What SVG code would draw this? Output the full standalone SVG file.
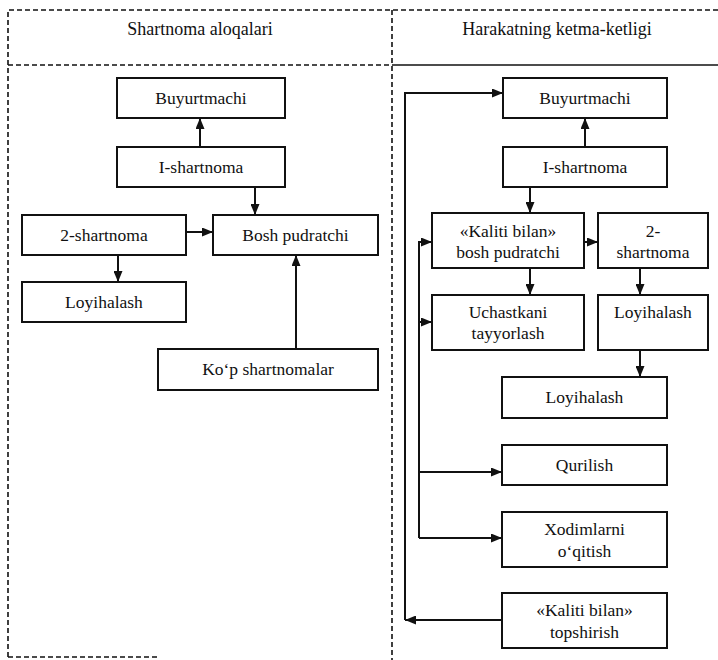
<svg xmlns="http://www.w3.org/2000/svg" width="718" height="660" viewBox="0 0 718 660">
<style>
  .bg{fill:#ffffff}
  .frame{fill:none;stroke:#111;stroke-width:1.6;stroke-dasharray:5 3}
  .solidline{fill:none;stroke:#111;stroke-width:1.6}
  .box{fill:#ffffff;stroke:#111;stroke-width:2}
  .t{font-family:'Liberation Serif','DejaVu Serif',serif;font-size:17.5px;fill:#111;text-anchor:middle}
  .title{font-family:'Liberation Serif','DejaVu Serif',serif;font-size:18px;fill:#111;text-anchor:middle}
  .c{fill:none;stroke:#111;stroke-width:2}
</style>
<defs>
  <marker id="arr" markerUnits="userSpaceOnUse" markerWidth="11" markerHeight="9" refX="11" refY="4.5" orient="auto">
    <path d="M0,0 L11,4.5 L0,9 z" fill="#111"/>
  </marker>
</defs>
<rect class="bg" x="0" y="0" width="718" height="660"/>

<g id="frame">
  <path class="frame" d="M8,657 V10 H718"/>
  <path class="frame" d="M8,65 H392"/>
  <path class="solidline" d="M392,65 H718"/>
  <path class="frame" d="M392,10 V660"/>
  <path class="frame" d="M8,657 H160"/>
  <text class="title" x="200" y="35">Shartnoma aloqalari</text>
  <text class="title" x="557" y="35">Harakatning ketma-ketligi</text>
</g>

<g id="connectors">
  <path class="c" d="M200,147 V118" marker-end="url(#arr)"/>
  <path class="c" d="M255,187 V215" marker-end="url(#arr)"/>
  <path class="c" d="M185,232 H213" marker-end="url(#arr)"/>
  <path class="c" d="M118,255 V282" marker-end="url(#arr)"/>
  <path class="c" d="M296,349 V255" marker-end="url(#arr)"/>

  <path class="c" d="M585,147 V118" marker-end="url(#arr)"/>
  <path class="c" d="M530,187 V213" marker-end="url(#arr)"/>
  <path class="c" d="M584,242 H598" marker-end="url(#arr)"/>
  <path class="c" d="M530,268 V295" marker-end="url(#arr)"/>
  <path class="c" d="M640,268 V295" marker-end="url(#arr)"/>
  <path class="c" d="M640,350 V377" marker-end="url(#arr)"/>

  <path class="c" d="M419,538 V242 H432" marker-end="url(#arr)"/>
  <path class="c" d="M419,322 H432" marker-end="url(#arr)"/>
  <path class="c" d="M419,472 H502" marker-end="url(#arr)"/>
  <path class="c" d="M419,538 H502" marker-end="url(#arr)"/>

  <path class="c" d="M405,620 V93 H503" marker-end="url(#arr)"/>
  <path class="c" d="M502,620 H405" marker-end="url(#arr)"/>
</g>

<g id="l-buyurtmachi"><rect class="box" x="117" y="78" width="168" height="40"/><text class="t" x="201" y="104">Buyurtmachi</text></g>
<g id="l-1-shartnoma"><rect class="box" x="117" y="147" width="168" height="40"/><text class="t" x="201" y="173">I-shartnoma</text></g>
<g id="l-2-shartnoma"><rect class="box" x="22" y="215" width="164" height="40"/><text class="t" x="104" y="241">2-shartnoma</text></g>
<g id="l-bosh-pudratchi"><rect class="box" x="213" y="215" width="165" height="40"/><text class="t" x="295.5" y="241">Bosh pudratchi</text></g>
<g id="l-loyihalash"><rect class="box" x="22" y="282" width="164" height="40"/><text class="t" x="104" y="308">Loyihalash</text></g>
<g id="l-kop-shartnomalar"><rect class="box" x="158" y="349" width="220" height="41"/><text class="t" x="268" y="375">Ko‘p shartnomalar</text></g>

<g id="r-buyurtmachi"><rect class="box" x="503" y="78" width="164" height="40"/><text class="t" x="585" y="104">Buyurtmachi</text></g>
<g id="r-1-shartnoma"><rect class="box" x="503" y="147" width="164" height="40"/><text class="t" x="585" y="173">I-shartnoma</text></g>
<g id="r-kaliti-bosh"><rect class="box" x="432" y="213" width="152" height="55"/><text class="t" x="508" y="237">«Kaliti bilan»</text><text class="t" x="508" y="258">bosh pudratchi</text></g>
<g id="r-2-shartnoma"><rect class="box" x="598" y="213" width="110" height="55"/><text class="t" x="653" y="237">2-</text><text class="t" x="653" y="258">shartnoma</text></g>
<g id="r-uchastkani"><rect class="box" x="432" y="295" width="152" height="55"/><text class="t" x="508" y="318">Uchastkani</text><text class="t" x="508" y="339">tayyorlash</text></g>
<g id="r-loyihalash-1"><rect class="box" x="598" y="295" width="110" height="55"/><text class="t" x="653" y="318">Loyihalash</text></g>
<g id="r-loyihalash-2"><rect class="box" x="502" y="377" width="165" height="41"/><text class="t" x="584.5" y="403">Loyihalash</text></g>
<g id="r-qurilish"><rect class="box" x="502" y="445" width="165" height="40"/><text class="t" x="584.5" y="471">Qurilish</text></g>
<g id="r-xodimlarni"><rect class="box" x="502" y="512" width="165" height="55"/><text class="t" x="584.5" y="535">Xodimlarni</text><text class="t" x="584.5" y="557">o‘qitish</text></g>
<g id="r-topshirish"><rect class="box" x="502" y="593" width="165" height="55"/><text class="t" x="584.5" y="616">«Kaliti bilan»</text><text class="t" x="584.5" y="638">topshirish</text></g>
</svg>
